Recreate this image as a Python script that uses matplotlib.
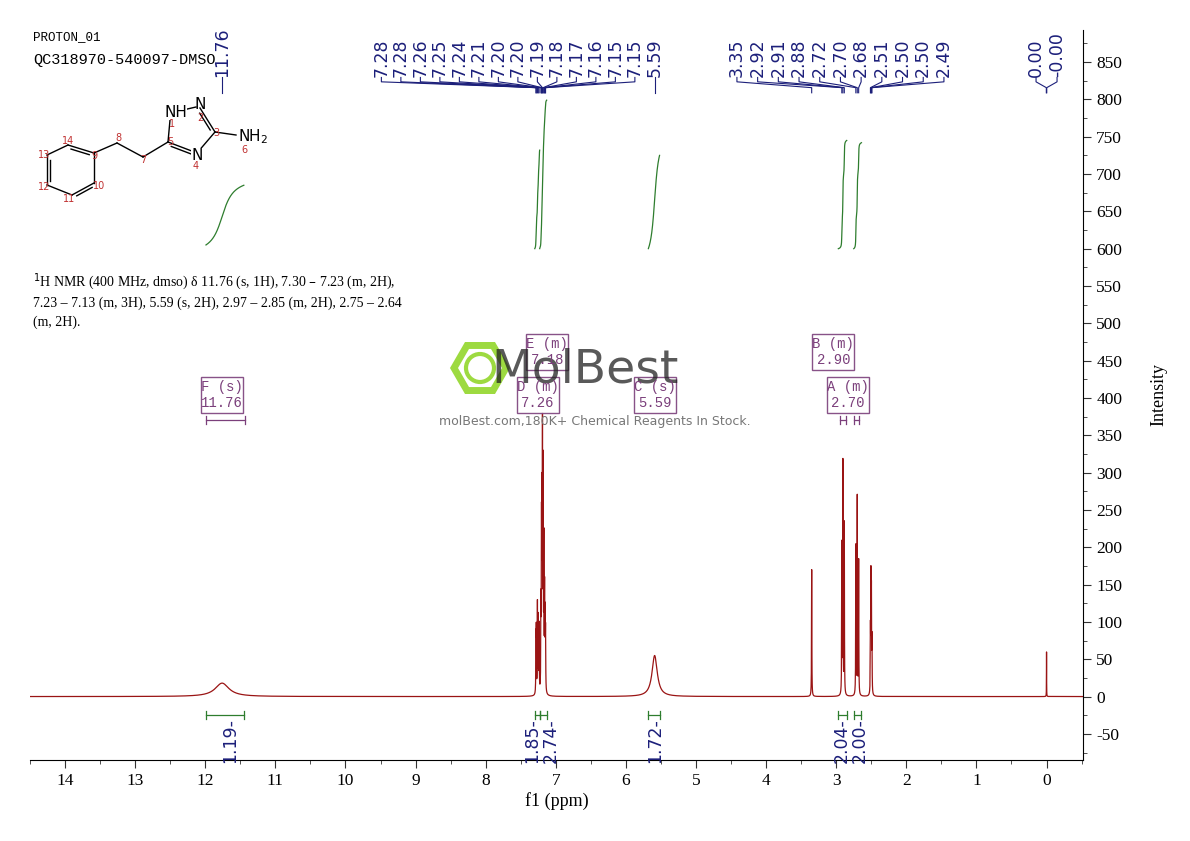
import numpy as np
import matplotlib
matplotlib.use("Agg")
import matplotlib.pyplot as plt
from matplotlib.patches import Rectangle, RegularPolygon, Circle
import matplotlib.transforms as mtransforms

plt.rcParams["axes.unicode_minus"] = False

# ---------------- data ----------------
peak_ppm = [11.76, 7.283, 7.278, 7.262, 7.250, 7.238, 7.212, 7.204, 7.198, 7.190, 7.180,
            7.170, 7.160, 7.152, 7.146, 5.59, 3.35, 2.92, 2.905, 2.885, 2.72, 2.70,
            2.68, 2.512, 2.505, 2.498, 2.49, 0.00]
peak_height = [18, 70, 80, 120, 100, 90, 110, 200, 230, 330, 290, 190, 130, 95, 75,
               55, 170, 200, 310, 230, 200, 265, 180, 80, 150, 130, 70, 60]
peak_hwhm = [0.12] + [0.0025] * 14 + [0.045] + [0.0025] * 11 + [0.0012]

top_groups = [
    (["11.76"], [11.76]),
    (["7.28", "7.28", "7.26", "7.25", "7.24", "7.21", "7.20", "7.20", "7.19", "7.18",
      "7.17", "7.16", "7.15", "7.15"],
     [7.283, 7.278, 7.262, 7.250, 7.238, 7.212, 7.204, 7.198, 7.190, 7.180, 7.170, 7.160, 7.152, 7.146]),
    (["5.59"], [5.59]),
    (["3.35", "2.92", "2.91", "2.88", "2.72", "2.70", "2.68", "2.51", "2.50", "2.50", "2.49"],
     [3.35, 2.92, 2.905, 2.885, 2.72, 2.70, 2.68, 2.512, 2.505, 2.498, 2.49]),
    (["0.00", "-0.00"], [0.003, -0.003]),
]
group_label_center = [11.76, 7.68, 5.59, 2.94, 0.0]
group_label_spacing_px = [0, 19.5, 0, 20.7, 21]

integ_lo = [11.45, 7.23, 7.13, 5.52, 2.85, 2.64]
integ_hi = [11.99, 7.30, 7.23, 5.68, 2.97, 2.75]
integ_val = ["1.19", "1.85", "2.74", "1.72", "2.04", "2.00"]
integ_label_ppm = [11.65, 7.34, 7.07, 5.59, 2.92, 2.66]
integ_curve_start = [605, 600, 600, 600, 600, 600]
integ_curve_end = [685, 732, 799, 725, 745, 742]

mult_name = ["F (s)", "E (m)", "D (m)", "C (s)", "B (m)", "A (m)"]
mult_val = ["11.76", "7.18", "7.26", "5.59", "2.90", "2.70"]
mult_ppm = [11.76, 7.12, 7.26, 5.59, 3.04, 2.83]
mult_row = [1, 0, 1, 1, 0, 1]

xticks = list(range(0, 15))
yticks = list(range(-50, 851, 50))

NAVY = "#1c1f7a"
GREEN = "#2e7d2e"
PURPLE = "#7b3f7b"
RED = "#9a1414"

# ---------------- figure ----------------
fig = plt.figure(figsize=(11.9, 8.41), dpi=100)
ax = fig.add_axes([30 / 1190, 81 / 841, 1053 / 1190, 730 / 841])
ax.set_xlim(14.5, -0.52)
ax.set_ylim(-85, 893)

x = np.linspace(-0.52, 14.5, 40000)
y = np.zeros_like(x)
for p, h, w in zip(peak_ppm, peak_height, peak_hwhm):
    y += h * w**2 / ((x - p) ** 2 + w**2)
ax.plot(x, y, color=RED, lw=0.9)

for s in ["top", "left"]:
    ax.spines[s].set_visible(False)
ax.yaxis.tick_right()
ax.yaxis.set_label_position("right")
ax.set_xticks(xticks)
ax.set_xticks(np.arange(-0.5, 14.6, 0.5), minor=True)
ax.set_yticks(yticks)
ax.set_yticks(np.arange(-75, 876, 25), minor=True)
ax.tick_params(which="both", direction="out", labelsize=12.5, color="#333333")
ax.tick_params(which="major", length=6)
ax.tick_params(which="minor", length=3)
for lab in ax.get_xticklabels() + ax.get_yticklabels():
    lab.set_fontfamily("Liberation Serif")
ax.set_xlabel("f1 (ppm)", fontsize=13, family="Liberation Serif", labelpad=2)
ax.set_ylabel("Intensity", fontsize=13, family="Liberation Serif", labelpad=20)

# ---- top peak labels ----
bt = mtransforms.blended_transform_factory(ax.transData, ax.transAxes)
px_per_ppm = 1053 / (14.5 + 0.52)
for (labs, locs), c, sp in zip(top_groups, group_label_center, group_label_spacing_px):
    n = len(labs)
    spacing = sp / px_per_ppm
    for i, (lab, loc) in enumerate(zip(labs, locs)):
        lx = c + (n - 1) / 2 * spacing - i * spacing if n > 1 else loc
        ax.text(lx, 0.935, lab, transform=bt, rotation=90, ha="center", va="bottom",
                fontsize=12.5, color=NAVY, family="DejaVu Sans")
        ax.plot([lx, lx, loc, loc], [0.935, 0.929, 0.921, 0.914], transform=bt,
                color=NAVY, lw=0.8, clip_on=False)

# ---- integrals ----
for lo, hi, v, lp, ys, ye in zip(integ_lo, integ_hi, integ_val, integ_label_ppm,
                                 integ_curve_start, integ_curve_end):
    ax.plot([hi, lo], [-25, -25], color=GREEN, lw=0.9)
    ax.plot([hi, hi], [-30, -20], color=GREEN, lw=0.9)
    ax.plot([lo, lo], [-30, -20], color=GREEN, lw=0.9)
    ax.text(lp, -29, v + "-", rotation=90, ha="center", va="top", fontsize=12.5,
            color=NAVY)
    m = (x >= lo) & (x <= hi)
    cs = np.cumsum(y[m][::-1])
    cs = cs / cs[-1]
    ax.plot(x[m][::-1], ys + (ye - ys) * cs, color=GREEN, lw=0.9)

# ---- overlay (pixel coords) ----
ov = fig.add_axes([0, 0, 1, 1], zorder=5)
ov.set_xlim(0, 1190)
ov.set_ylim(841, 0)
ov.axis("off")
ov.patch.set_alpha(0)

# watermark
ov.add_patch(RegularPolygon((480, 368), 6, radius=26, orientation=np.pi / 6,
                            fill=False, ec="#8cd41e", lw=5, alpha=0.85))
ov.add_patch(Circle((480, 368), 14, fill=False, ec="#8cd41e", lw=3, alpha=0.85))
ov.text(585, 370, "MolBest", fontsize=34, color="#222222", alpha=0.75, ha="center",
        va="center", family="DejaVu Sans")
ov.text(595, 421, "molBest.com,180K+ Chemical Reagents In Stock.", fontsize=9,
        color="#777777", ha="center", va="center")

# multiplet boxes
for nm, v, p, r in zip(mult_name, mult_val, mult_ppm, mult_row):
    xc = 65 + (14 - p) * px_per_ppm
    yc = 352 if r == 0 else 395
    ov.add_patch(Rectangle((xc - 21, yc - 18), 42, 36, fill=True, fc="white",
                           ec=PURPLE, lw=1, alpha=0.9))
    ov.text(xc, yc - 8, nm, ha="center", va="center", fontsize=10, color=PURPLE,
            family="Liberation Mono")
    ov.text(xc, yc + 8, v, ha="center", va="center", fontsize=10, color=PURPLE,
            family="Liberation Mono")
# multiplet ranges
for lo, hi in [(11.43, 11.99), (2.86, 2.95), (2.67, 2.75)]:
    xa = 65 + (14 - hi) * px_per_ppm
    xb = 65 + (14 - lo) * px_per_ppm
    ov.plot([xa, xb], [420, 420], color=PURPLE, lw=0.9)
    ov.plot([xa, xa], [416, 424], color=PURPLE, lw=0.9)
    ov.plot([xb, xb], [416, 424], color=PURPLE, lw=0.9)

# header texts
ov.text(33, 37, "PROTON_01", fontsize=9, family="Liberation Mono", va="center")
ov.text(33, 60, "QC318970-540097-DMSO", fontsize=11, family="Liberation Mono", va="center")
ov.text(33, 300, r"$^{1}$H NMR (400 MHz, dmso) δ 11.76 (s, 1H), 7.30 – 7.23 (m, 2H)," "\n"
        "7.23 – 7.13 (m, 3H), 5.59 (s, 2H), 2.97 – 2.85 (m, 2H), 2.75 – 2.64\n(m, 2H).",
        fontsize=10, family="Liberation Serif", va="center", linespacing=1.5)

# molecule
P = {14: (68, 145), 9: (94, 153), 10: (94, 183), 11: (72, 195), 12: (47, 185),
     13: (47, 155), 8: (117, 143), 7: (143, 157), 5: (168, 142), 1: (170, 120),
     2: (200, 108), 3: (215, 132), 4: (197, 153)}
bonds = [(14, 9), (9, 10), (10, 11), (11, 12), (12, 13), (13, 14), (9, 8), (8, 7), (7, 5),
         (5, 1), (2, 3), (3, 4), (4, 5)]
for a, b in bonds:
    ov.plot([P[a][0], P[b][0]], [P[a][1], P[b][1]], color="black", lw=1)
for a, b in [(14, 9), (11, 10), (12, 13), (5, 4), (2, 3)]:
    (x1, y1), (x2, y2) = P[a], P[b]
    dx, dy = x2 - x1, y2 - y1
    L = np.hypot(dx, dy)
    nx, ny = -dy / L * 3, dx / L * 3
    ov.plot([x1 + nx + dx * .15, x2 + nx - dx * .15], [y1 + ny + dy * .15, y2 + ny - dy * .15],
            color="black", lw=1)
ov.plot([183, 196], [110, 107], color="black", lw=1)
ov.plot([215, 236], [132, 135], color="black", lw=1)
ov.text(176, 112, "NH", fontsize=11, ha="center", va="center", color="black",
        bbox=dict(fc="white", ec="none", pad=0))
ov.text(200, 104, "N", fontsize=11, ha="center", va="center")
ov.text(197, 155, "N", fontsize=11, ha="center", va="center",
        bbox=dict(fc="white", ec="none", pad=0))
ov.text(238, 137, r"NH$_2$", fontsize=11, ha="left", va="center")
nums = {14: (68, 141), 9: (94, 156), 10: (99, 186), 11: (69, 199), 12: (44, 187),
        13: (44, 155), 8: (118, 138), 7: (143, 160), 5: (170, 142), 1: (172, 124),
        2: (200, 118), 3: (216, 133), 4: (196, 166), 6: (244, 150)}
for k, (xx, yy) in nums.items():
    ov.text(xx, yy, str(k), fontsize=7, color="#c03030", ha="center", va="center")

fig.savefig("out.png", dpi=100)
